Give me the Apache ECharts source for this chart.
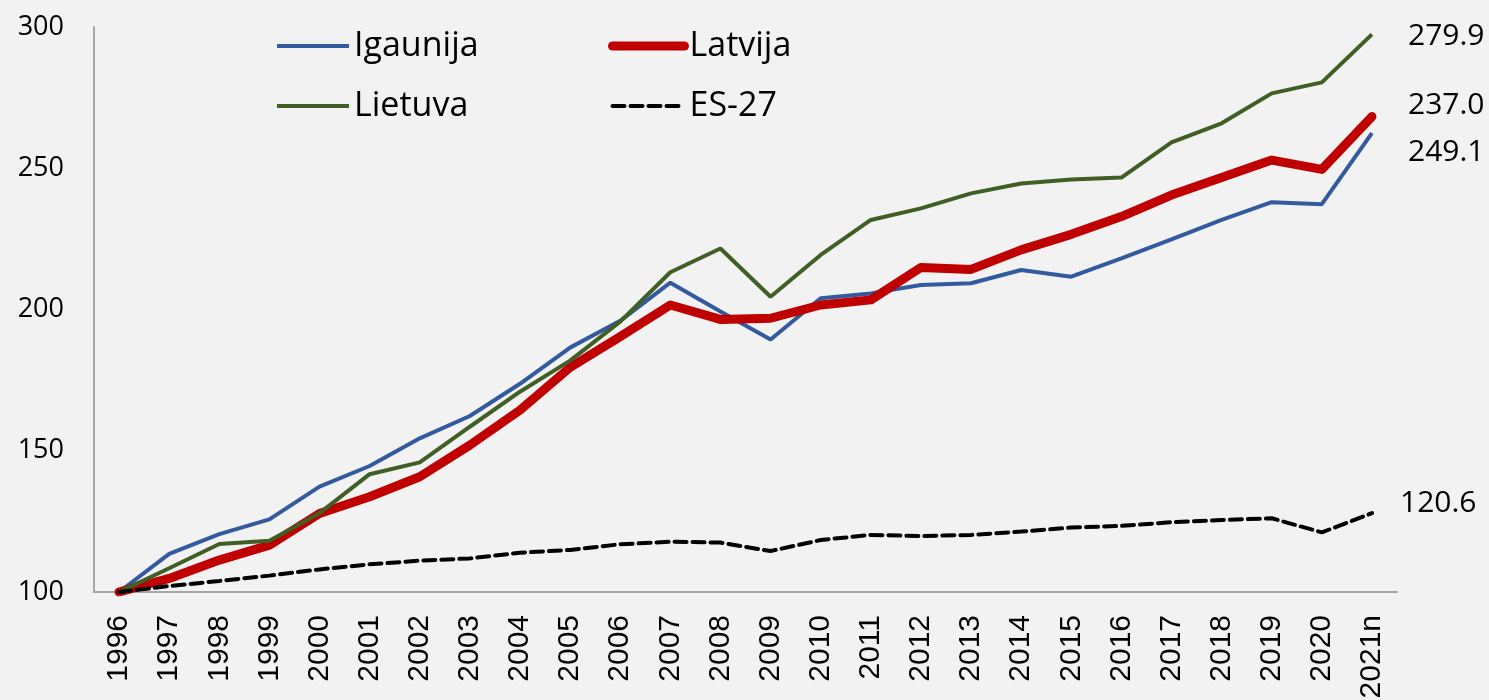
<!DOCTYPE html>
<html>
<head>
<meta charset="utf-8">
<script src="https://cdn.jsdelivr.net/npm/echarts@6/dist/echarts.min.js"></script>
<style>
  html, body { margin: 0; padding: 0; background: #f2f2f2; }
  #chart { width: 1489px; height: 700px; }
</style>
</head>
<body>
<div id="chart"></div>
<script>
const years = ['1996', '1997', '1998', '1999', '2000', '2001', '2002', '2003', '2004', '2005',
  '2006', '2007', '2008', '2009', '2010', '2011', '2012', '2013', '2014', '2015',
  '2016', '2017', '2018', '2019', '2020', '2021n']

const igaunija = [100, 113.5, 120.5, 125.7, 137.3, 144.6, 154.4, 162.3, 173.7, 186.5,
  196.0, 209.5, 199.3, 189.4, 204.0, 205.7, 208.7, 209.3, 214.0, 211.6,
  218.1, 224.8, 231.7, 238.0, 237.3, 262.4]
const latvija = [100, 104.8, 111.3, 116.6, 127.8, 133.7, 140.8, 152.0, 164.4, 179.5,
  190.4, 201.6, 196.5, 196.9, 201.6, 203.4, 214.9, 214.2, 221.1, 226.6,
  232.9, 240.5, 246.7, 252.9, 249.6, 268.3]
const lietuva = [100, 108.4, 117.0, 118.1, 127.9, 141.7, 145.9, 158.5, 170.9, 181.9,
  195.7, 213.2, 221.6, 204.5, 219.3, 231.7, 235.8, 241.1, 244.6, 246.0,
  246.7, 259.2, 265.9, 276.5, 280.4, 297.4]
const es27 = [100, 102.1, 103.9, 105.8, 108.0, 109.8, 111.1, 111.9, 113.9, 114.9,
  116.9, 117.8, 117.5, 114.5, 118.4, 120.2, 119.8, 120.2, 121.4, 122.8,
  123.4, 124.7, 125.5, 126.1, 121.1, 127.9]

// end annotations as shown in the source figure
const endNotes = ['279.9', '237.0', '249.1', '120.6']

const txtFont = '"Open Sans", "Noto Sans", sans-serif'

const chart = echarts.init(document.getElementById('chart'))

const legendText = {
  color: '#000',
  fontSize: 34,
  fontFamily: txtFont,
  lineHeight: 40
}

const legendBase = {
  orient: 'vertical',
  top: 26,
  padding: 0,
  itemWidth: 72,
  itemHeight: 20,
  itemGap: 20,
  itemStyle: { opacity: 0 },
  textStyle: legendText
}

const option = {
  backgroundColor: '#f2f2f2',
  animation: false,
  grid: {
    left: 94,
    right: 92,
    top: 27,
    bottom: 108,
    outerBoundsMode: 'none'
  },
  legend: [
    Object.assign({}, legendBase, {
      left: 275,
      data: [
        { name: 'Igaunija', lineStyle: { width: 4 } },
        { name: 'Lietuva', lineStyle: { width: 4 } }
      ]
    }),
    Object.assign({}, legendBase, {
      left: 608,
      data: [
        { name: 'Latvija', lineStyle: { width: 9 } },
        { name: 'ES-27', lineStyle: { width: 4 } }
      ]
    })
  ],
  xAxis: {
    type: 'category',
    data: years,
    boundaryGap: true,
    axisLine: { lineStyle: { color: '#a6a6a6', width: 2 } },
    axisTick: { show: false },
    axisLabel: {
      rotate: 90,
      margin: 23,
      color: '#000',
      fontSize: 30,
      fontFamily: '"Liberation Sans", Arial, sans-serif',
      interval: 0
    }
  },
  yAxis: {
    type: 'value',
    min: 100,
    max: 300,
    interval: 50,
    axisLine: { show: true, lineStyle: { color: '#a6a6a6', width: 2 } },
    axisTick: { show: false },
    splitLine: { show: false },
    axisLabel: {
      margin: 30,
      color: '#000',
      fontSize: 27,
      fontFamily: txtFont
    }
  },
  series: [
    {
      name: 'Igaunija',
      type: 'line',
      data: igaunija,
      symbol: 'none',
      lineStyle: { color: '#335a9e', width: 4 },
      itemStyle: { color: '#335a9e' }
    },
    {
      name: 'Latvija',
      type: 'line',
      data: latvija,
      symbol: 'none',
      lineStyle: { color: '#c00000', width: 9, cap: 'round', join: 'round' },
      itemStyle: { color: '#c00000' }
    },
    {
      name: 'Lietuva',
      type: 'line',
      data: lietuva,
      symbol: 'none',
      lineStyle: { color: '#3f5f24', width: 4 },
      itemStyle: { color: '#3f5f24' }
    },
    {
      name: 'ES-27',
      type: 'line',
      data: es27,
      symbol: 'none',
      lineStyle: { color: '#000', width: 4, type: [12, 6], cap: 'round' },
      itemStyle: { color: '#000' }
    }
  ],
  graphic: [
    { type: 'text', left: 1408, top: 21, style: { text: endNotes[0], fill: '#000', font: '30px ' + txtFont } },
    { type: 'text', left: 1408, top: 90, style: { text: endNotes[1], fill: '#000', font: '30px ' + txtFont } },
    { type: 'text', left: 1408, top: 137, style: { text: endNotes[2], fill: '#000', font: '30px ' + txtFont } },
    { type: 'text', left: 1400, top: 488, style: { text: endNotes[3], fill: '#000', font: '30px ' + txtFont } }
  ]
}

chart.setOption(option)
</script>
</body>
</html>
